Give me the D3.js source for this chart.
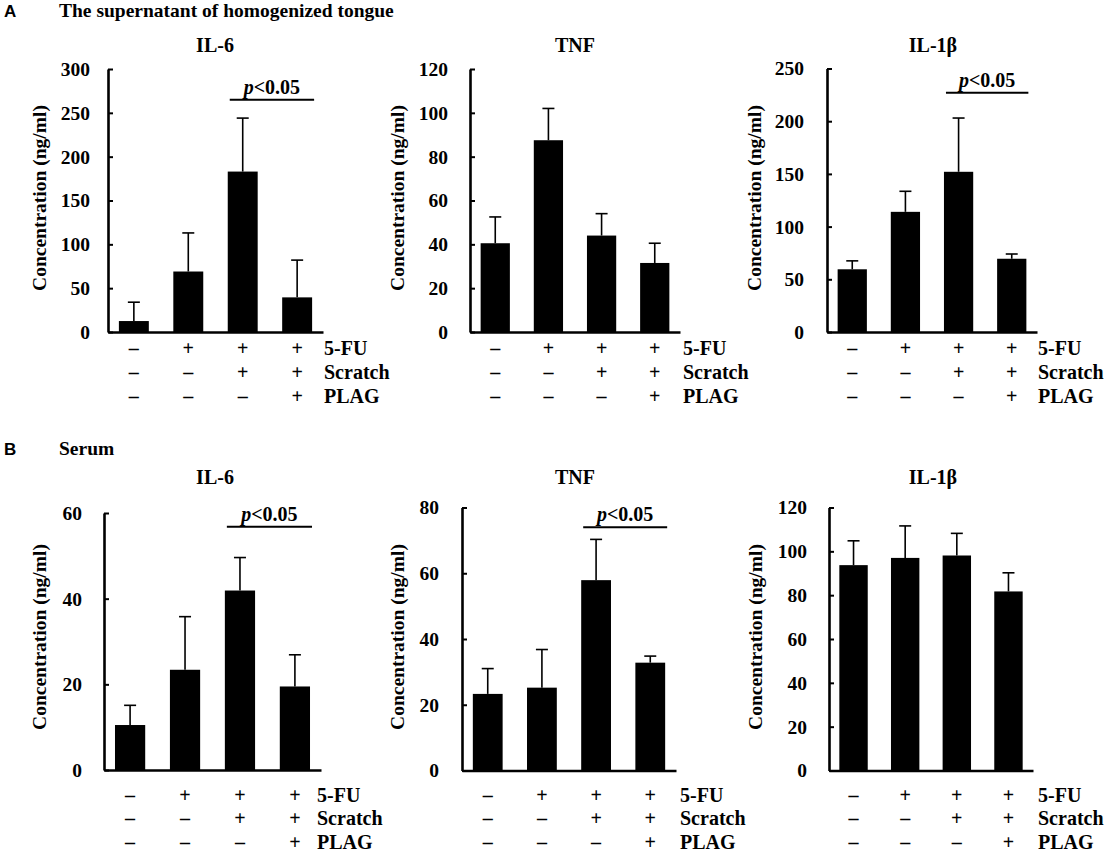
<!DOCTYPE html>
<html>
<head>
<meta charset="utf-8">
<script src="https://cdn.jsdelivr.net/npm/d3@7"></script>
<style>
  body { margin: 0; background: #fff; }
  svg text { font-family: "Liberation Serif", "Times New Roman", serif; font-weight: bold; }
</style>
</head>
<body>
<div id="chart"></div>
<script>
// ---- data ----
var cytokines = ["IL-6", "TNF", "IL-1\u03b2"];
var conditionRows = ["5-FU", "Scratch", "PLAG"];
var conditionSigns = [
    ["\u2013", "+", "+", "+"],
    ["\u2013", "\u2013", "+", "+"],
    ["\u2013", "\u2013", "\u2013", "+"]
];
var sections = ["The supernatant of homogenized tongue", "Serum"];
var sectionLetters = ["A", "B"];

// tongue homogenate (ng/ml), mean and upper error
var tongueIL6 = [12.5, 69, 183, 39.5],   tongueIL6Err = [21.5, 44, 61, 42.5];
var tongueTNF = [40.5, 87.5, 44, 31.5],  tongueTNFErr = [12, 14.5, 10, 9];
var tongueIL1b = [59.5, 114, 152, 69.5], tongueIL1bErr = [8, 19.5, 51, 4.5];
var tongueMax = [300, 120, 250], tongueTickStep = [50, 20, 50];
var tongueSig = [{from: 2, to: 3, value: 265}, null, {from: 2, to: 3, value: 227}];

// serum (ng/ml)
var serumIL6 = [10.5, 23.4, 41.9, 19.5],  serumIL6Err = [4.6, 12.4, 7.7, 7.4];
var serumTNF = [23.3, 25.2, 57.9, 32.8],  serumTNFErr = [7.7, 11.6, 12.4, 2];
var serumIL1b = [93.7, 97, 98.1, 81.7],   serumIL1bErr = [11.1, 14.6, 10.1, 8.5];
var serumMax = [60, 80, 120], serumTickStep = [20, 20, 20];
var serumSig = [{from: 2, to: 3, value: 56.8}, {from: 2, to: 3, value: 74}, null];

// ---- layout ----
var width = 1106, height = 858;
var frames = [
    {x0: 108, x1: 323,  yTop: 69,    yBot: 332,   gap: 18, labelX: 39,  condX: 324,  titleX: 215},
    {x0: 470, x1: 680,  yTop: 69,    yBot: 332,   gap: 22, labelX: 397, condX: 683,  titleX: 575},
    {x0: 827, x1: 1037, yTop: 68.5,  yBot: 332,   gap: 23, labelX: 754, condX: 1038, titleX: 933},
    {x0: 104, x1: 321,  yTop: 513,   yBot: 770,   gap: 22, labelX: 39,  condX: 317,  titleX: 215},
    {x0: 462, x1: 676,  yTop: 507.5, yBot: 770.5, gap: 23, labelX: 397, condX: 680,  titleX: 575},
    {x0: 829, x1: 1033, yTop: 507.5, yBot: 770.5, gap: 22, labelX: 755, condX: 1038, titleX: 933}
];
var rowLayout = [
    {headY: 17,  titleY: 52,  yLabelMid: 198, condY: [355, 379, 403]},
    {headY: 455, titleY: 484, yLabelMid: 637, condY: [802, 825, 849]}
];

var panels = [
    {mean: tongueIL6,  err: tongueIL6Err,  max: tongueMax[0], step: tongueTickStep[0], sig: tongueSig[0]},
    {mean: tongueTNF,  err: tongueTNFErr,  max: tongueMax[1], step: tongueTickStep[1], sig: tongueSig[1]},
    {mean: tongueIL1b, err: tongueIL1bErr, max: tongueMax[2], step: tongueTickStep[2], sig: tongueSig[2]},
    {mean: serumIL6,   err: serumIL6Err,   max: serumMax[0],  step: serumTickStep[0],  sig: serumSig[0]},
    {mean: serumTNF,   err: serumTNFErr,   max: serumMax[1],  step: serumTickStep[1],  sig: serumSig[1]},
    {mean: serumIL1b,  err: serumIL1bErr,  max: serumMax[2],  step: serumTickStep[2],  sig: serumSig[2]}
];

var svg = d3.select("#chart").append("svg")
    .attr("width", width)
    .attr("height", height);

// section headers
sections.forEach(function(s, i) {
    svg.append("text")
        .attr("x", 4).attr("y", rowLayout[i].headY)
        .style("font-family", "'Liberation Sans', Arial, sans-serif")
        .style("font-size", "17px")
        .text(sectionLetters[i]);
    svg.append("text")
        .attr("x", 59).attr("y", rowLayout[i].headY)
        .style("font-size", "19.5px")
        .text(s);
});

panels.forEach(function(p, idx) {
    var f = frames[idx];
    var row = rowLayout[Math.floor(idx / 3)];
    var g = svg.append("g");

    var x = d3.scaleBand()
        .domain(d3.range(p.mean.length))
        .range([f.x0, f.x1])
        .paddingInner(0.45)
        .paddingOuter(0.2);
    var y = d3.scaleLinear().domain([0, p.max]).range([f.yBot, f.yTop]);

    // title
    g.append("text")
        .attr("x", f.titleX).attr("y", row.titleY)
        .attr("text-anchor", "middle")
        .style("font-size", "20px")
        .text(cytokines[idx % 3]);

    // bars
    g.selectAll(".bar")
        .data(p.mean)
        .enter().append("rect")
        .attr("class", "bar")
        .attr("x", function(d, i) { return x(i); })
        .attr("y", function(d) { return y(d); })
        .attr("width", x.bandwidth())
        .attr("height", function(d) { return y(0) - y(d); })
        .attr("fill", "#000");

    // upper error bars
    var eb = g.selectAll(".err")
        .data(p.mean)
        .enter().append("g")
        .attr("class", "err")
        .attr("stroke", "#000")
        .attr("stroke-width", 1.6);
    eb.append("line")
        .attr("x1", function(d, i) { return x(i) + x.bandwidth() / 2; })
        .attr("x2", function(d, i) { return x(i) + x.bandwidth() / 2; })
        .attr("y1", function(d) { return y(d); })
        .attr("y2", function(d, i) { return y(d + p.err[i]); });
    eb.append("line")
        .attr("x1", function(d, i) { return x(i) + x.bandwidth() / 2 - 6; })
        .attr("x2", function(d, i) { return x(i) + x.bandwidth() / 2 + 6; })
        .attr("y1", function(d, i) { return y(d + p.err[i]); })
        .attr("y2", function(d, i) { return y(d + p.err[i]); });

    // y axis, ticks pointing inward
    var yAxis = d3.axisLeft(y)
        .tickValues(d3.range(0, p.max + 0.001, p.step))
        .tickSizeInner(-5)
        .tickSizeOuter(0)
        .tickPadding(f.gap);
    var ya = g.append("g")
        .attr("transform", "translate(" + f.x0 + ",0)")
        .call(yAxis);
    ya.select(".domain").attr("stroke-width", 2.6);
    ya.selectAll(".tick line").attr("stroke-width", 2);
    ya.selectAll(".tick text")
        .attr("font-family", null)
        .attr("dy", "0.33em")
        .style("font-size", "19.5px")
        .attr("fill", "#000");
    ya.attr("font-family", null).attr("font-size", null);

    // x axis line
    var xa = g.append("g")
        .attr("transform", "translate(0," + y(0) + ")")
        .call(d3.axisBottom(x).tickSize(0).tickFormat(""));
    xa.select(".domain").attr("stroke-width", 2.6);

    // y label
    g.append("text")
        .attr("transform", "translate(" + (f.labelX + 7) + "," + row.yLabelMid + ") rotate(-90)")
        .attr("text-anchor", "middle")
        .style("font-size", "19.5px")
        .text("Concentration (ng/ml)");

    // significance
    if (p.sig) {
        var sx1 = x(p.sig.from) + 2, sx2 = x(p.sig.to) + x.bandwidth() + 2;
        g.append("line")
            .attr("x1", sx1).attr("x2", sx2)
            .attr("y1", y(p.sig.value)).attr("y2", y(p.sig.value))
            .attr("stroke", "#000").attr("stroke-width", 2);
        var st = g.append("text")
            .attr("x", (sx1 + sx2) / 2)
            .attr("y", y(p.sig.value) - 6)
            .attr("text-anchor", "middle")
            .style("font-size", "20px");
        st.append("tspan").style("font-style", "italic").text("p");
        st.append("tspan").text("<0.05");
    }

    // treatment table
    conditionRows.forEach(function(name, r) {
        g.selectAll(".sign" + r)
            .data(conditionSigns[r])
            .enter().append("text")
            .attr("x", function(d, i) { return x(i) + x.bandwidth() / 2; })
            .attr("y", row.condY[r])
            .attr("text-anchor", "middle")
            .style("font-size", "20px")
            .text(function(d) { return d; });
        g.append("text")
            .attr("x", f.condX).attr("y", row.condY[r])
            .style("font-size", "20px")
            .text(name);
    });
});
</script>
</body>
</html>
